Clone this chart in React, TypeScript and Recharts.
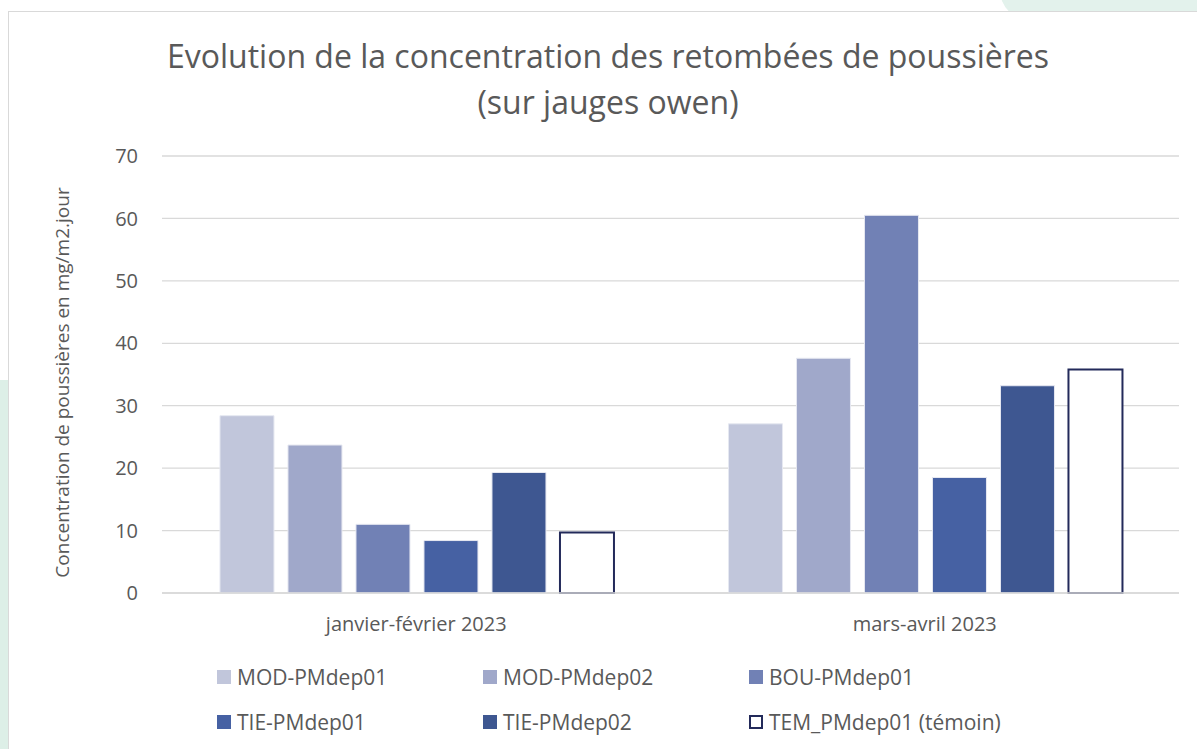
import { BarChart, Bar, XAxis, YAxis, CartesianGrid, Label } from 'recharts'

const categories = ['janvier-février 2023', 'mars-avril 2023']
const modDep01 = [28.4, 27.1]
const modDep02 = [23.7, 37.6]
const bouDep01 = [11.0, 60.5]
const tieDep01 = [8.4, 18.5]
const tieDep02 = [19.3, 33.2]
const temDep01 = [9.7, 35.8]
const yTicks = [0, 10, 20, 30, 40, 50, 60, 70]

const SERIES = [
  { key: 'mod01', name: 'MOD-PMdep01', values: modDep01, fill: '#C1C6DB', stroke: '#E6E8F1' },
  { key: 'mod02', name: 'MOD-PMdep02', values: modDep02, fill: '#A0A8CA', stroke: '#E6E8F1' },
  { key: 'bou01', name: 'BOU-PMdep01', values: bouDep01, fill: '#7181B5', stroke: '#E6E8F1' },
  { key: 'tie01', name: 'TIE-PMdep01', values: tieDep01, fill: '#4661A3', stroke: '#E6E8F1' },
  { key: 'tie02', name: 'TIE-PMdep02', values: tieDep02, fill: '#3E5791', stroke: '#E6E8F1' },
  { key: 'tem01', name: 'TEM_PMdep01 (témoin)', values: temDep01, fill: '#FFFFFF', stroke: '#232A5A' },
]

const data = categories.map((cat, i) => {
  const row: Record<string, string | number> = { name: cat }
  SERIES.forEach((s) => {
    row[s.key] = s.values[i]
  })
  return row
})

const TEXT = '#595959'
const FONT = '"Open Sans", sans-serif'

export default function App() {
  return (
    <div
      style={{
        position: 'absolute',
        left: 0,
        top: 0,
        width: 1197,
        height: 749,
        overflow: 'hidden',
        background: '#FFFFFF',
        fontFamily: FONT,
      }}
    >
      {/* faint background shapes outside the chart frame */}
      <div style={{ position: 'absolute', left: -30, top: 380, width: 60, height: 400, background: '#DDEFE7', borderRadius: 20 }} />
      <div style={{ position: 'absolute', left: 1000, top: -40, width: 260, height: 60, background: '#E3F2EC', borderRadius: 30 }} />

      <div
        style={{
          position: 'absolute',
          left: 8,
          top: 11,
          width: 1200,
          height: 760,
          background: '#FFFFFF',
          border: '1px solid #D9D9D9',
        }}
      />

      <div
        style={{
          position: 'absolute',
          left: 0,
          top: 33,
          width: 1216,
          textAlign: 'center',
          color: TEXT,
          fontSize: 32,
          lineHeight: '46px',
        }}
      >
        Evolution de la concentration des retombées de poussières
        <br />
        (sur jauges owen)
      </div>

      <div style={{ position: 'absolute', left: 0, top: 0 }}>
        <BarChart
          width={1197}
          height={749}
          data={data}
          margin={{ top: 156, right: 18, bottom: 126, left: 0 }}
          barGap={14}
          barCategoryGap="11.4%"
        >
          <CartesianGrid vertical={false} stroke="#D9D9D9" strokeWidth={1.3} />
          <XAxis
            dataKey="name"
            height={30}
            tickLine={false}
            tickSize={0}
            tickMargin={24}
            axisLine={{ stroke: '#D9D9D9', strokeWidth: 1.3 }}
            tick={{ fill: TEXT, fontSize: 20, fontFamily: FONT }}
          />
          <YAxis
            width={162}
            domain={[0, 70]}
            ticks={yTicks}
            axisLine={false}
            tickLine={false}
            tickSize={0}
            tickMargin={24}
            tick={{ fill: TEXT, fontSize: 20, fontFamily: FONT }}
          >
            <Label
              content={({ viewBox }: any) => {
                const cx = viewBox.x + 62
                const cy = viewBox.y + viewBox.height / 2 + 8
                return (
                  <text
                    x={cx}
                    y={cy}
                    transform={`rotate(-90, ${cx}, ${cy})`}
                    textAnchor="middle"
                    dominantBaseline="central"
                    fill={TEXT}
                    fontSize={19}
                    fontFamily={FONT}
                  >
                    Concentration de poussières en mg/m2.jour
                  </text>
                )
              }}
            />
          </YAxis>
          {SERIES.map((s) => (
            <Bar
              key={s.key}
              dataKey={s.key}
              name={s.name}
              fill={s.fill}
              stroke={s.stroke}
              strokeWidth={s.key === 'tem01' ? 2 : 1}
              isAnimationActive={false}
            />
          ))}
        </BarChart>
      </div>

      <div
        style={{
          position: 'absolute',
          left: 217,
          top: 662,
          display: 'grid',
          gridTemplateColumns: '266px 266px 266px',
          rowGap: 15,
          color: TEXT,
          fontSize: 21,
          lineHeight: '30px',
        }}
      >
        {SERIES.map((s) => (
          <div key={s.key} style={{ display: 'flex', alignItems: 'center', whiteSpace: 'nowrap' }}>
            <span
              style={{
                display: 'inline-block',
                width: 14,
                height: 14,
                boxSizing: 'border-box',
                background: s.fill,
                border: s.key === 'tem01' ? '2px solid #232A5A' : 'none',
                marginRight: 6,
              }}
            />
            {s.name}
          </div>
        ))}
      </div>
    </div>
  )
}
